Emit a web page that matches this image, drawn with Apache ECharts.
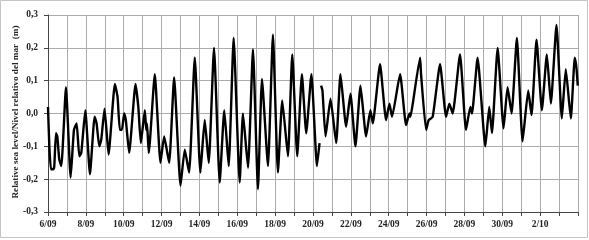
<!DOCTYPE html>
<html>
<head>
<meta charset="utf-8">
<script src="https://cdn.jsdelivr.net/npm/echarts@6/dist/echarts.min.js"></script>
<style>html,body{margin:0;padding:0;background:#fff;}#c{width:589px;height:240px;}</style>
</head>
<body>
<div id="c"></div>
<script>
// hours since 6/09 00:00
var hours = [0,1.7,3.8,6.8,8,10.1,11.8,14.3,16.9,22.8,28.7,32.9,36.3,39.7,42.2,47.3,53.2,59.1,61.6,65,67.5,71.7,76.8,84.8,88.2,91.1,93.7,96.6,98.7,102.9,111,
114.5,117.7,122.8,124.5,125.5,127.8,135.4,142.6,147.3,153.6,159.9,168,173.4,178.9,186.1,193.2,198.7,203.8,210.5,217.7,223.5,229.1,235.4,243,247.2,253.6,259.9,266.2,271.3,278.9,285.2,291.5,297,304.2,309.7,316,321.9,327.4,334,341,344.3,
345.3,
346.3,348,351.9,358.2,365.4,370.8,378,383.5,389.8,396.2,403.3,408.8,411.8,421,428.6,432.9,436.2,446.4,454,
458.3,459.5,462.5,471.8,473,479.4,482.7,487.8,497.1,504.7,508.9,513.1,522.4,530,535.5,537.6,544.7,554.5,559.5,562.9,570.1,
577.6,582.7,587.8,594.5,601.7,608.9,613.1,619.4,626.2,632.5,637.6,644.7,651.5,656.5,662.9,667.9,670,671.7];
var levels = [0.02,-0.10,-0.17,-0.17,-0.16,-0.06,-0.07,-0.14,-0.16,0.08,-0.195,-0.05,-0.03,-0.13,-0.12,0.01,-0.185,-0.01,-0.03,-0.10,-0.08,0.015,-0.125,0.09,0.05,-0.05,-0.05,0.00,-0.02,-0.12,0.09,
0.02,-0.09,0.01,-0.05,-0.03,-0.12,0.12,-0.15,-0.07,-0.15,0.11,-0.22,-0.11,-0.18,0.17,-0.18,-0.02,-0.15,0.20,-0.21,0.01,-0.16,0.23,-0.21,0.00,-0.165,0.195,-0.23,0.105,-0.16,0.24,-0.18,0.04,-0.13,0.18,-0.13,0.12,-0.06,0.12,-0.16,-0.09,
null,
0.085,0.07,-0.07,0.045,-0.09,0.12,-0.04,0.06,-0.10,0.085,-0.07,0.01,-0.03,0.15,-0.02,0.03,-0.01,0.12,-0.035,
0.00,-0.01,0.03,0.17,0.12,-0.05,-0.02,-0.01,0.15,-0.01,0.03,0.00,0.18,-0.05,0.02,0.00,0.17,-0.10,0.02,-0.06,0.20,
-0.045,0.08,0.00,0.23,-0.085,0.07,-0.005,0.225,0.01,0.18,0.03,0.27,-0.015,0.135,-0.015,0.17,0.14,0.085];
var dateLabels = ['6/09','8/09','10/09','12/09','14/09','16/09','18/09','20/09','22/09','24/09','26/09','28/09','30/09','2/10'];
var yTickLabels = ['-0,3','-0,2','-0,1','0,0','0,1','0,2','0,3'];
var yTitle = 'Relative sea level/Nivel relativo del mar  (m)';

var data = hours.map(function (h, i) { return [h, levels[i]]; });
var chart = echarts.init(document.getElementById('c'), null, {renderer: 'canvas'});
var font = 'Liberation Serif';
chart.setOption({
  animation: false,
  backgroundColor: '#fff',
  grid: {left: 48, right: 11, top: 15, bottom: 28, containLabel: false},
  xAxis: {
    type: 'value', min: 0, max: 672, interval: 24,
    axisLine: {show: true, onZero: false, lineStyle: {color: '#444', width: 1}},
    axisTick: {show: true, length: 4, lineStyle: {color: '#444'}},
    splitLine: {show: true, lineStyle: {color: '#ababab', width: 1}},
    axisLabel: {
      margin: 8, fontFamily: font, fontWeight: 'bold', fontSize: 9.5, color: '#222',
      formatter: function (v) { return (v % 48 === 0 && v < 672) ? dateLabels[v / 48] : ''; }
    }
  },
  yAxis: {
    type: 'value', min: -0.3, max: 0.3, interval: 0.1,
    axisLine: {show: true, lineStyle: {color: '#444', width: 1}},
    axisTick: {show: true, length: 4, lineStyle: {color: '#444'}},
    splitLine: {show: true, lineStyle: {color: '#ababab', width: 1}},
    axisLabel: {
      margin: 10, fontFamily: font, fontWeight: 'bold', fontSize: 9.5, color: '#222',
      formatter: function (v) { return yTickLabels[Math.round((v + 0.3) / 0.1)]; }
    }
  },
  graphic: [
    {type: 'rect', shape: {x: 0.5, y: 0.5, width: 587, height: 237}, style: {fill: 'none', stroke: '#c4c4c4', lineWidth: 1}, silent: true},
    {type: 'text', x: 16, y: 112, rotation: Math.PI / 2,
     style: {text: yTitle, fontFamily: font, fontWeight: 'bold', fontSize: 9.2, fill: '#222', textAlign: 'center', textVerticalAlign: 'middle'}}
  ],
  series: [{
    type: 'line', data: data, showSymbol: false, smooth: 0.15, connectNulls: false,
    lineStyle: {color: '#000', width: 2.4}
  }]
});
</script>
</body>
</html>
